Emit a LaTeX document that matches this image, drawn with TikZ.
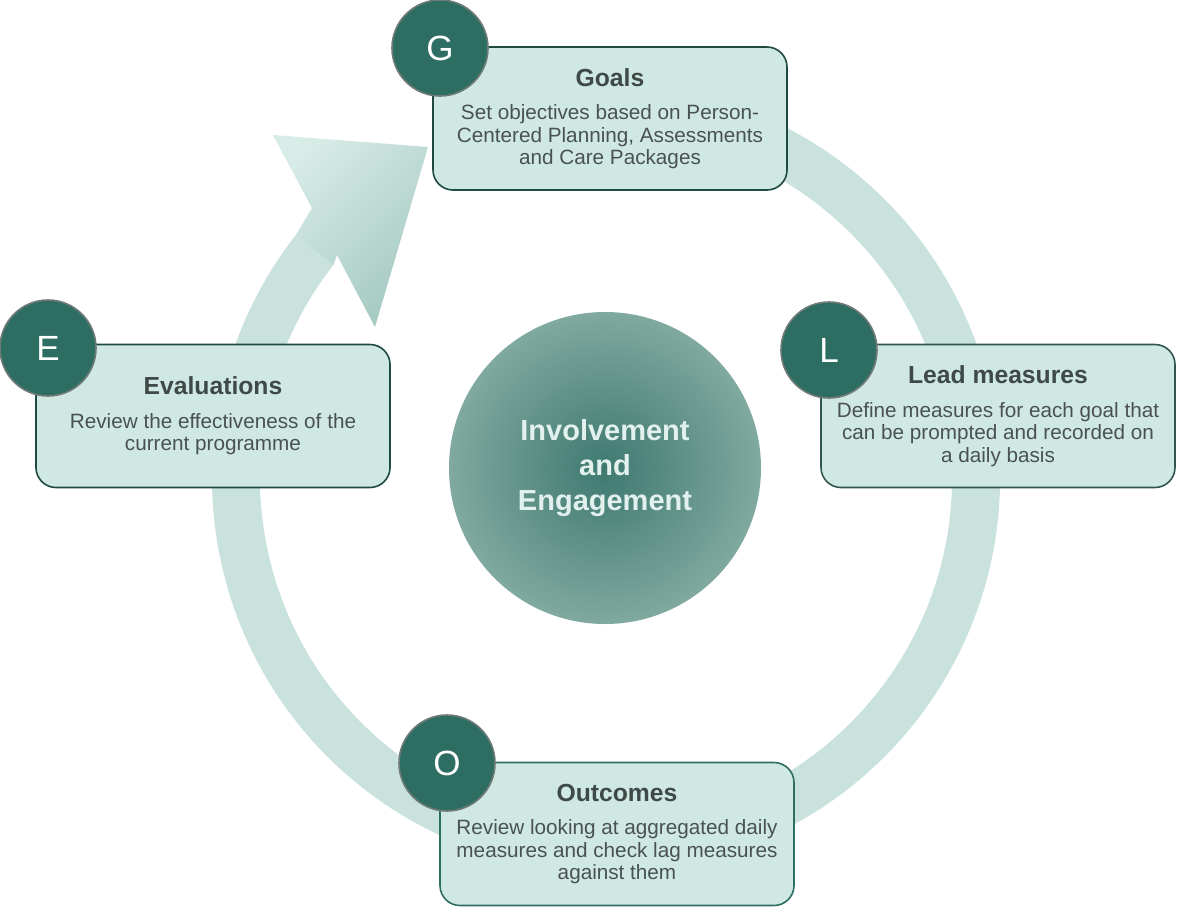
\documentclass[tikz,border=0pt]{standalone}
\usepackage{fontspec}
\setmainfont{Liberation Sans}
\usetikzlibrary{calc}

\definecolor{ringcol}{HTML}{C9E2DD}
\definecolor{headlight}{HTML}{D7EBE7}
\definecolor{headdark}{HTML}{A5C9C2}
\definecolor{cardfill}{HTML}{CFE8E4}
\definecolor{cardline}{HTML}{1F4A40}
\definecolor{badgefill}{HTML}{2E6E62}
\definecolor{badgeline}{HTML}{707A78}
\definecolor{hubin}{HTML}{3E7970}
\definecolor{hubout}{HTML}{80A99F}
\definecolor{hubtext}{HTML}{E2F1EE}
\definecolor{titletext}{HTML}{3F4946}
\definecolor{bodytext}{HTML}{4A5250}

\newcommand{\cardhead}[1]{{\fontsize{24.7}{26}\selectfont\bfseries\color{titletext}#1}}

\begin{document}
\begin{tikzpicture}[x=1pt, y=-1pt,
  card/.style={draw=cardline, line width=1.6pt, fill=cardfill, rounded corners=20pt,
    minimum width=354pt, minimum height=143pt, inner sep=0pt, align=center,
    text=bodytext, font=\fontsize{20.7}{22.5}\selectfont},
  badge/.style={circle, draw=badgeline, line width=1.6pt, fill=badgefill,
    minimum size=96pt, inner sep=0pt, text=white, font=\fontsize{35}{40}\selectfont}]
\useasboundingbox (0,0) rectangle (1178,906);

% cycle arrow
\coordinate (ctr) at (606,478);
\fill[ringcol] ($(ctr)+(-100:394)$) arc[start angle=-100, end angle=218, radius=394]
  -- ($(ctr)+(218:346)$) arc[start angle=218, end angle=-100, radius=346] -- cycle;
\shade[top color=headlight, bottom color=headdark, shading angle=45]
  ($(ctr)+(218:394)$) -- (312,208) -- (273,135) -- (428,147) -- (375,327)
  -- (337,255) -- ($(ctr)+(218:346)$) -- cycle;

% hub
\node[circle, minimum size=312pt, inner color=hubin, outer color=hubout, text=hubtext,
  align=center, font=\fontsize{29}{35}\selectfont\bfseries] (hub) at (605,468)
  {Involvement\\and\\Engagement};

% cards
\node[card] (goals) at (610,118.5)
  {\cardhead{Goals}\\[11pt]Set objectives based on Person-\\Centered Planning, Assessments\\and Care Packages};
\node[card, draw=cardline!80!gray] (lead) at (998,416)
  {\cardhead{Lead measures}\\[11pt]Define measures for each goal that\\can be prompted and recorded on\\a daily basis};
\node[card, draw=badgefill] (outc) at (617,834)
  {\cardhead{Outcomes}\\[11pt]Review looking at aggregated daily\\measures and check lag measures\\against them};
\node[card] (evals) at (213,416)
  {\cardhead{Evaluations}\\[11pt]Review the effectiveness of the\\current programme};

\node[badge] (g) at (440,48) {G};
\node[badge] (l) at (829,350) {L};
\node[badge] (o) at (447,763) {O};
\node[badge] (e) at (48,348) {E};
\end{tikzpicture}
\end{document}
